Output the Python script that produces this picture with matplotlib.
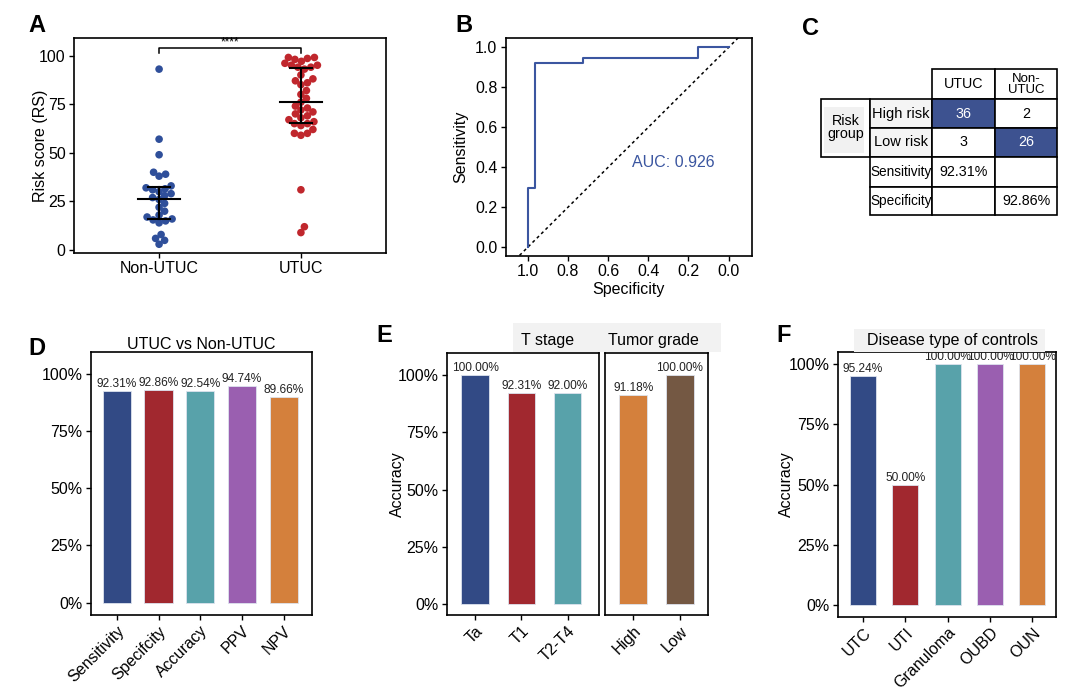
import numpy as np
import matplotlib
matplotlib.use("Agg")
import matplotlib.pyplot as plt
from matplotlib.patches import Rectangle

plt.rcParams['font.family'] = ['Liberation Sans', 'DejaVu Sans']

# ---------------- data ----------------
# Panel A: risk scores
groups_a = ["Non-UTUC", "UTUC"]
rs_non_utuc = [3, 5, 6, 8, 14, 15, 15.5, 16, 17, 18, 20, 22, 24, 26, 27, 28, 29, 30,
               31, 31.5, 32, 33, 38, 39, 40, 49, 57, 93]
rs_utuc = [9, 12, 31, 59, 60, 60, 62, 64, 65, 65, 66, 67, 68, 69, 70, 71, 72, 73, 74, 76,
           78, 80, 82, 85, 86, 87, 88, 90, 93, 94, 94, 95, 95, 96, 97, 98, 98.5, 99, 99]
sig_label = "****"

# Panel B: ROC curve corner points
roc_spec = [1.0, 1.0, 0.964, 0.964, 0.726, 0.726, 0.151, 0.151, 0.0]
roc_sens = [0.0, 0.295, 0.295, 0.923, 0.923, 0.946, 0.946, 1.0, 1.0]
auc_text = "AUC: 0.926"

# Panel C: confusion table
tbl_cols = ["UTUC", "Non-\nUTUC"]
tbl_rows = ["High risk", "Low risk"]
tbl_counts = [[36, 2], [3, 26]]
tbl_sens = "92.31%"
tbl_spec = "92.86%"

# Panel D
d_cats = ["Sensitivity", "Specifcity", "Accuracy", "PPV", "NPV"]
d_vals = [0.9231, 0.9286, 0.9254, 0.9474, 0.8966]
d_title = "UTUC vs Non-UTUC"

# Panel E
e1_cats = ["Ta", "T1", "T2-T4"]
e1_vals = [1.0, 0.9231, 0.92]
e2_cats = ["High", "Low"]
e2_vals = [0.9118, 1.0]
e_strips = ["T stage", "Tumor grade"]

# Panel F
f_cats = ["UTC", "UTI", "Granuloma", "OUBD", "OUN"]
f_vals = [0.9524, 0.50, 1.0, 1.0, 1.0]
f_strip = "Disease type of controls"

# ---------------- styling ----------------
BLUE = "#324a85"
RED = "#a1282f"
TEAL = "#58a2aa"
PURPLE = "#9a5fb0"
ORANGE = "#d4803c"
BROWN = "#745843"
DOT_BLUE = "#2f4f9a"
DOT_RED = "#c0272d"
ROC_BLUE = "#3b56a0"
TICK_FS = 11.5
LAB_FS = 11.5

W, H = 1072, 690
fig = plt.figure(figsize=(W / 100, H / 100), dpi=100)


def px_axes(l, t, r, b):
    return fig.add_axes([l / W, 1 - b / H, (r - l) / W, (b - t) / H])


def style(ax, lw=1.2):
    for s in ax.spines.values():
        s.set_linewidth(lw)
        s.set_color("black")
    ax.tick_params(direction="out", length=3.5, width=1, labelsize=TICK_FS, colors="black",
                   pad=2.5)


def plabel(x, y, s):
    fig.text(x / W, 1 - y / H, s, fontsize=17, fontweight="bold", ha="left", va="top")


def ylabel_at(ax, text, right_px, l, r):
    ax.set_ylabel(text, fontsize=LAB_FS)
    ax.yaxis.set_label_coords((right_px - l) / (r - l), 0.5)


def swarm_offsets(vals, ypx, d=6.6, step=0.5):
    vals = np.asarray(vals, dtype=float)
    order = np.argsort(vals)
    cands = [0.0]
    for k in range(1, 200):
        cands += [k * step, -k * step]
    placed = []
    offs = np.zeros(len(vals))
    for i in order:
        y = vals[i] * ypx
        for c in cands:
            ok = True
            for (px, py) in placed:
                if (c - px) ** 2 + (y - py) ** 2 < d * d:
                    ok = False
                    break
            if ok:
                offs[i] = c
                placed.append((c, y))
                break
    return offs


# ---------------- Panel A ----------------
A_box = (74, 38, 386, 253)
axA = px_axes(*A_box)
style(axA)
xlimA = (0.4, 2.6)
ylimA = (-1.5, 109)
axA.set_xlim(*xlimA)
axA.set_ylim(*ylimA)
xpx = (A_box[2] - A_box[0]) / (xlimA[1] - xlimA[0])
ypx = (A_box[3] - A_box[1]) / (ylimA[1] - ylimA[0])
for gi, (vals, col) in enumerate([(rs_non_utuc, DOT_BLUE), (rs_utuc, DOT_RED)]):
    offs = swarm_offsets(vals, ypx)
    xs = (gi + 1) + offs / xpx
    axA.scatter(xs, vals, s=30, color=col, edgecolors="none", zorder=2)
    q1, med, q3 = np.percentile(vals, [25, 50, 75])
    x0 = gi + 1
    axA.plot([x0 - 0.15, x0 + 0.15], [med, med], color="black", lw=1.5, zorder=3)
    axA.plot([x0 - 0.077, x0 + 0.077], [q1, q1], color="black", lw=1.5, zorder=3)
    axA.plot([x0 - 0.077, x0 + 0.077], [q3, q3], color="black", lw=1.5, zorder=3)
    axA.plot([x0, x0], [q1, q3], color="black", lw=1.5, zorder=3)
axA.plot([1, 1, 2, 2], [101.2, 103.8, 103.8, 101.2], color="black", lw=1.1)
axA.text(1.5, 103.4, sig_label, ha="center", va="bottom", fontsize=8.5)
axA.set_xticks([1, 2])
axA.set_xticklabels(groups_a)
axA.set_yticks([0, 25, 50, 75, 100])
ylabel_at(axA, "Risk score (RS)", 48, A_box[0], A_box[2])
plabel(28, 14, "A")

# ---------------- Panel B ----------------
B_box = (505.7, 38, 751.7, 256)
axB = px_axes(*B_box)
style(axB)
axB.set_xlim(1.11, -0.115)
axB.set_ylim(-0.044, 1.047)
axB.plot([1.3, -0.3], [-0.3, 1.3], ls=(0, (2, 2)), color="black", lw=1.1)
axB.plot(roc_spec, roc_sens, color=ROC_BLUE, lw=1.5)
axB.text(0.275, 0.423, auc_text, color=ROC_BLUE, fontsize=11.5, ha="center", va="center")
axB.set_xticks([1.0, 0.8, 0.6, 0.4, 0.2, 0.0])
axB.set_xticklabels(["1.0", "0.8", "0.6", "0.4", "0.2", "0.0"])
axB.set_yticks([0.0, 0.2, 0.4, 0.6, 0.8, 1.0])
axB.set_yticklabels(["0.0", "0.2", "0.4", "0.6", "0.8", "1.0"])
axB.set_xlabel("Specificity", fontsize=LAB_FS, labelpad=2)
ylabel_at(axB, "Sensitivity", 468, B_box[0], B_box[2])
plabel(455, 14, "B")

# ---------------- Panel C ----------------
axC = fig.add_axes([0, 0, 1, 1])
axC.set_xlim(0, W)
axC.set_ylim(H, 0)
axC.axis("off")
cx = [820.7, 870, 932.3, 995, 1057.3]
ry = [69.3, 99, 128.3, 156.7, 186.7, 215]
TFS = 10.3


def cell(x0, x1, y0, y1, text="", fc="white", tc="black", fs=TFS):
    axC.add_patch(Rectangle((x0, y0), x1 - x0, y1 - y0, facecolor=fc, edgecolor="black", lw=1.2))
    if text != "":
        axC.text((x0 + x1) / 2, (y0 + y1) / 2, text, ha="center", va="center", color=tc,
                 fontsize=fs, linespacing=0.9)


for j, name in enumerate(tbl_cols):
    cell(cx[2 + j], cx[3 + j], ry[0], ry[1], name, fs=TFS if j == 0 else 9.5)
cell(cx[0], cx[1], ry[1], ry[3])
axC.add_patch(Rectangle((824, 107), 40, 46, facecolor="#f1f1f1", edgecolor="none"))
axC.text((cx[0] + cx[1]) / 2, (ry[1] + ry[3]) / 2, "Risk\ngroup", ha="center", va="center",
         fontsize=TFS, linespacing=0.9)
for i, rname in enumerate(tbl_rows):
    cell(cx[1], cx[2], ry[1 + i], ry[2 + i], rname, fc="#f4f4f4", fs=10.5)
    for j in range(2):
        diag = (i == j)
        cell(cx[2 + j], cx[3 + j], ry[1 + i], ry[2 + i], str(tbl_counts[i][j]),
             fc="#3d5290" if diag else "white", tc="white" if diag else "black")
cell(cx[1], cx[2], ry[3], ry[4], "Sensitivity", fs=9.8)
cell(cx[2], cx[3], ry[3], ry[4], tbl_sens)
cell(cx[3], cx[4], ry[3], ry[4], "")
cell(cx[1], cx[2], ry[4], ry[5], "Specificity", fs=9.8)
cell(cx[2], cx[3], ry[4], ry[5], "")
cell(cx[3], cx[4], ry[4], ry[5], tbl_spec)
plabel(802, 17, "C")


# ---------------- bar panels ----------------
def bar_panel(ax, cats, vals, colors, xlim, ylim, width, show_y=True):
    style(ax)
    xs = np.arange(1, len(cats) + 1)
    ax.bar(xs, vals, width=width, color=colors, edgecolor="#dde3ee", linewidth=0.6)
    for x, v in zip(xs, vals):
        ax.text(x, v + 0.004, f"{v * 100:.2f}%", ha="center", va="bottom", fontsize=8.6,
                color="#222222")
    ax.set_xlim(*xlim)
    ax.set_ylim(*ylim)
    ax.set_xticks(xs)
    ax.set_xticklabels(cats, rotation=45, ha="right", rotation_mode="anchor")
    ax.set_yticks([0, 0.25, 0.5, 0.75, 1.0])
    if show_y:
        ax.set_yticklabels(["0%", "25%", "50%", "75%", "100%"])
    else:
        ax.tick_params(axis="y", left=False, labelleft=False)


# Panel D
axD = px_axes(91, 352.3, 311.7, 615)
bar_panel(axD, d_cats, d_vals, [BLUE, RED, TEAL, PURPLE, ORANGE], (0.38, 5.67),
          (-0.054, 1.093), 0.68)
axD.set_title(d_title, fontsize=LAB_FS, pad=1.5)
plabel(28, 337, "D")

# Panel E
fig.add_artist(Rectangle((512.7 / W, 1 - 351.7 / H), (721 - 512.7) / W, (351.7 - 323.3) / H,
                         transform=fig.transFigure, facecolor="#f2f2f2", edgecolor="none"))
fig.text(547.7 / W, 1 - 340 / H, e_strips[0], ha="center", va="center", fontsize=LAB_FS)
fig.text(653 / W, 1 - 340 / H, e_strips[1], ha="center", va="center", fontsize=LAB_FS)
E1_box = (447, 353, 599, 615.3)
axE1 = px_axes(*E1_box)
bar_panel(axE1, e1_cats, e1_vals, [BLUE, RED, TEAL], (0.39, 3.68), (-0.049, 1.096), 0.6)
ylabel_at(axE1, "Accuracy", 405, E1_box[0], E1_box[2])
axE2 = px_axes(605, 353, 707.7, 615.3)
bar_panel(axE2, e2_cats, e2_vals, [ORANGE, BROWN], (0.39, 2.6), (-0.049, 1.096), 0.6,
          show_y=False)
plabel(376, 324, "E")

# Panel F
fig.add_artist(Rectangle((854.3 / W, 1 - 351.7 / H), (1045 - 854.3) / W, (351.7 - 329) / H,
                         transform=fig.transFigure, facecolor="#f2f2f2", edgecolor="none"))
fig.text(952.7 / W, 1 - 340 / H, f_strip, ha="center", va="center", fontsize=LAB_FS)
F_box = (837.7, 352.3, 1056, 616.7)
axF = px_axes(*F_box)
bar_panel(axF, f_cats, f_vals, [BLUE, RED, TEAL, PURPLE, ORANGE], (0.4, 5.56),
          (-0.049, 1.05), 0.61)
ylabel_at(axF, "Accuracy", 794, F_box[0], F_box[2])
plabel(776, 324, "F")

fig.savefig("out.png", dpi=100)
